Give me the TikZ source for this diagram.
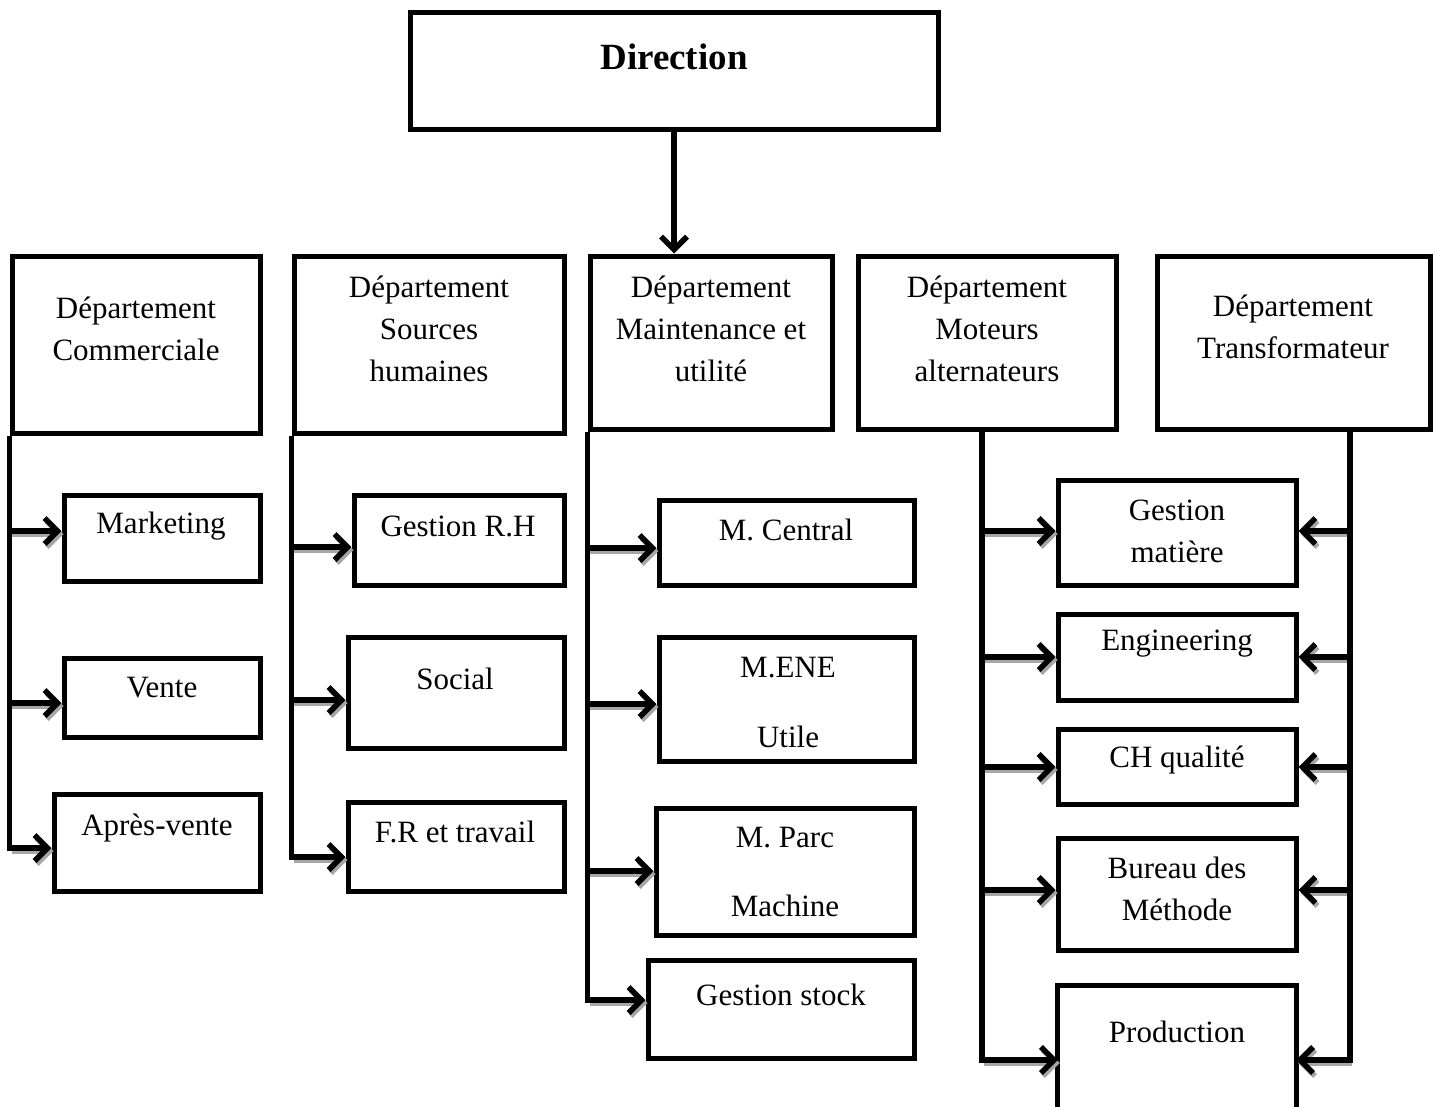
\documentclass[tikz,border=0pt]{standalone}
\usepackage{fontspec}
\setmainfont{Liberation Serif}
\usetikzlibrary{arrows.meta,fit}
\newcommand\harr[3]{%
  \draw[shd] (#1 |- 0,#3) -- (#2 |- 0,#3);
  \draw[arr] (#1 |- 0,#3) -- (#2 |- 0,#3);}
\begin{document}
\begin{tikzpicture}[x=1pt,y=-1pt,
  box/.style={draw, line width=5pt, inner sep=0pt},
  openbox/.style={inner sep=0pt},
  txt/.style={font=\fontsize{31}{42}\selectfont, align=center, inner sep=0pt},
  ttl/.style={font=\bfseries\fontsize{37}{44}\selectfont, inner sep=0pt},
  arr/.style={line width=5.5pt, -{Straight Barb[length=13pt,width=26pt]}},
  shd/.style={arr, draw=black!35, transform canvas={shift={(2,3)}}},
  trunk/.style={line width=5pt}]
\fill[white] (0,0) rectangle (1439,1106);
\useasboundingbox (0,0) rectangle (1439,1106);

% Direction
\node[box, fit={(410,12) (938,129)}] (dir) {};
\node[ttl] (dirt) at (674,57) {Direction};

% departments
\node[box, fit={(12,256) (260,433)}] (d1) {};
\node[txt] (d1t) at (136,329) {Département\\Commerciale};
\node[box, fit={(294,256) (564,433)}] (d2) {};
\node[txt] (d2t) at (429,329) {Département\\Sources\\humaines};
\node[box, fit={(590,256) (832,429)}] (d3) {};
\node[txt] (d3t) at (711,329) {Département\\Maintenance et\\utilité};
\node[box, fit={(858,256) (1116,429)}] (d4) {};
\node[txt] (d4t) at (987,329) {Département\\Moteurs\\alternateurs};
\node[box, fit={(1157,256) (1430,429)}] (d5) {};
\node[txt] (d5t) at (1293,327) {Département\\Transformateur};

\draw[arr] (dir.south) -- (dir.south |- d3.north);

% Commerciale
\node[box, fit={(64,495) (260,581)}] (mkt) {};
\node[txt] (mktt) at (161,526) {Marketing};
\node[box, fit={(64,658) (260,737)}] (ven) {};
\node[txt] (vent) at (162,688) {Vente};
\node[box, fit={(54,794) (260,891)}] (apv) {};
\node[txt] (apvt) at (157,828) {Après-vente};

% Sources humaines
\node[box, fit={(354,495) (564,585)}] (grh) {};
\node[txt] (grht) at (458,526) {Gestion R.H};
\node[box, fit={(348,637) (564,748)}] (soc) {};
\node[txt] (soct) at (455,679) {Social};
\node[box, fit={(348,802) (564,891)}] (frt) {};
\node[txt] (frtt) at (455,832) {F.R et travail};

% Maintenance
\node[box, fit={(659,500) (914,585)}] (mc) {};
\node[txt] (mct) at (786,530) {M. Central};
\node[box, fit={(659,637) (914,761)}] (me) {};
\node[txt] (met) at (788,702) {M.ENE\\[28pt]Utile};
\node[box, fit={(656,808) (914,935)}] (mp) {};
\node[txt] (mpt) at (785,872) {M. Parc\\[27pt]Machine};
\node[box, fit={(648,960) (914,1058)}] (gs) {};
\node[txt] (gst) at (781,995) {Gestion stock};

% shared column
\node[box, fit={(1058,480) (1296,585)}] (gm) {};
\node[txt] (gmt) at (1177,531) {Gestion\\matière};
\node[box, fit={(1058,614) (1296,700)}] (eng) {};
\node[txt] (engt) at (1177,644) {Engineering};
\node[box, fit={(1058,729) (1296,804)}] (chq) {};
\node[txt] (chqt) at (1177,760) {CH qualité};
\node[box, fit={(1058,838) (1296,950)}] (bm) {};
\node[txt] (bmt) at (1177,889) {Bureau des\\Méthode};
\node[openbox, fit={(1058,986) (1296,1120)}] (prod) {};
\draw[line width=5pt] (prod.south west) -- (prod.north west) -- (prod.north east) -- (prod.south east);
\node[txt] (prodt) at (1177,1032) {Production};

% trunk coordinates
\coordinate (t4) at ([xshift=-5pt]d4.south);
\coordinate (t5) at (1350,429);

% Commerciale connectors
\harr{d1.south west}{mkt.west}{531}
\harr{d1.south west}{ven.west}{703}
\draw[shd] (d1.south west |- 0,848) -- (apv.west |- 0,848);
\draw[arr] (d1.south west) |- (apv.west |- 0,848);

% Sources humaines
\harr{d2.south west}{grh.west}{547}
\harr{d2.south west}{soc.west}{700}
\draw[shd] (d2.south west |- 0,857) -- (frt.west |- 0,857);
\draw[arr] (d2.south west) |- (frt.west |- 0,857);

% Maintenance
\harr{d3.south west}{mc.west}{548}
\harr{d3.south west}{me.west}{704}
\harr{d3.south west}{mp.west}{871}
\draw[shd] (d3.south west |- 0,1000) -- (gs.west |- 0,1000);
\draw[arr] (d3.south west) |- (gs.west |- 0,1000);

% Moteurs (left trunk)
\harr{t4}{gm.west}{531}
\harr{t4}{eng.west}{657}
\harr{t4}{chq.west}{767}
\harr{t4}{bm.west}{890}
\draw[shd] (t4 |- 0,1060) -- (prod.west |- 0,1060);
\draw[arr] (t4) |- (prod.west |- 0,1060);

% Transformateur (right trunk)
\harr{t5}{gm.east}{531}
\harr{t5}{eng.east}{657}
\harr{t5}{chq.east}{767}
\harr{t5}{bm.east}{890}
\draw[shd] (t5 |- 0,1060) -- (prod.east |- 0,1060);
\draw[arr] (t5) |- (prod.east |- 0,1060);
\end{tikzpicture}
\end{document}
